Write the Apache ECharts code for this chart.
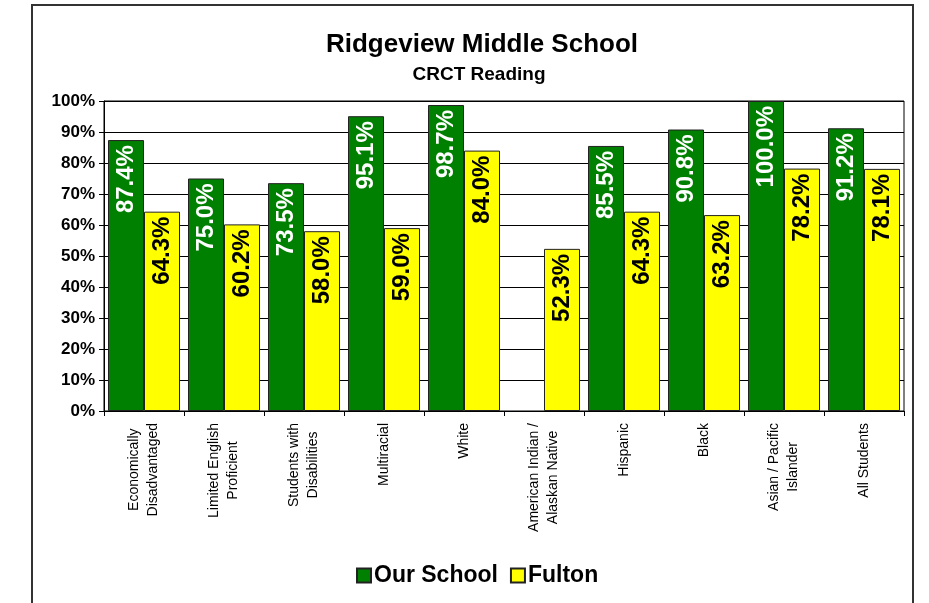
<!DOCTYPE html>
<html>
<head>
<meta charset="utf-8">
<script src="https://cdn.jsdelivr.net/npm/echarts@6/dist/echarts.min.js"></script>
<style>
html,body{margin:0;padding:0;background:#fff;}
#chart{width:929px;height:603px;}
</style>
</head>
<body>
<div id="chart"></div>
<script>
const categories = [
  "Economically\nDisadvantaged",
  "Limited English\nProficient",
  "Students with\nDisabilities",
  "Multiracial",
  "White",
  "American Indian /\nAlaskan Native",
  "Hispanic",
  "Black",
  "Asian / Pacific\nIslander",
  "All Students"
];
const ourSchool = [87.4, 75.0, 73.5, 95.1, 98.7, null, 85.5, 90.8, 100.0, 91.2];
const fulton = [64.3, 60.2, 58.0, 59.0, 84.0, 52.3, 64.3, 63.2, 78.2, 78.1];
const yMin = 0, yMax = 100, yStep = 10;

const FONT = '"Liberation Sans", Arial, sans-serif';
const chart = echarts.init(document.getElementById('chart'), null, {renderer: 'canvas'});

function barLabel(color) {
  return {
    show: true,
    position: 'insideTop',
    rotate: 90,
    align: 'right',
    verticalAlign: 'middle',
    distance: 5,
    color: color,
    fontFamily: FONT,
    fontWeight: 'bold',
    fontSize: 24,
    formatter: p => (p.value == null ? '' : Number(p.value).toFixed(1) + '%')
  };
}

chart.setOption({
  backgroundColor: '#fff',
  animation: false,
  graphic: [{
    type: 'rect',
    shape: {x: 32, y: 5, width: 881, height: 640},
    style: {fill: 'none', stroke: '#333', lineWidth: 2},
    silent: true, z: 0
  }],
  title: [{
    text: 'Ridgeview Middle School',
    left: 477, top: 27, textAlign: 'center',
    textStyle: {fontFamily: FONT, fontWeight: 'bold', fontSize: 26, color: '#000'}
  }, {
    text: 'CRCT Reading',
    left: 474, top: 60, textAlign: 'center',
    textStyle: {fontFamily: FONT, fontWeight: 'bold', fontSize: 19, color: '#000'}
  }],
  legend: {
    left: 351, top: 559,
    itemWidth: 14, itemHeight: 14, itemGap: 12,
    icon: 'rect',
    textStyle: {fontFamily: FONT, fontWeight: 'bold', fontSize: 23, color: '#000', padding: [0, 0, 0, -2]},
    data: ['Our School', 'Fulton']
  },
  grid: {
    left: 104, right: 25, top: 101, bottom: 192,
    show: true, borderColor: '#000', borderWidth: 1, backgroundColor: 'transparent'
  },
  xAxis: {
    type: 'category',
    data: categories,
    axisLine: {lineStyle: {color: '#000', width: 1}},
    axisTick: {show: true, length: 5, lineStyle: {color: '#000'}},
    axisLabel: {
      interval: 0,
      rotate: 90,
      margin: 12,
      color: '#000',
      fontFamily: FONT,
      fontSize: 14,
      lineHeight: 19,
      formatter: v => v.split('\n').map(s => '{c|' + s + '}').join('\n'),
      rich: {c: {align: 'center', fontFamily: FONT, fontSize: 14, lineHeight: 19, color: '#000'}}
    }
  },
  yAxis: {
    type: 'value',
    min: yMin, max: yMax, interval: yStep,
    axisLine: {show: true, lineStyle: {color: '#000'}},
    axisTick: {show: true, length: 5, lineStyle: {color: '#000'}},
    splitLine: {show: true, lineStyle: {color: '#000', width: 1}},
    axisLabel: {
      margin: 9,
      color: '#000',
      fontFamily: FONT,
      fontWeight: 'bold',
      fontSize: 17,
      formatter: '{value}%'
    }
  },
  series: [{
    name: 'Our School',
    type: 'bar',
    data: ourSchool,
    barGap: '0%',
    barCategoryGap: '10%',
    itemStyle: {color: '#008000', borderColor: '#222', borderWidth: 1},
    label: barLabel('#fff')
  }, {
    name: 'Fulton',
    type: 'bar',
    data: fulton,
    barGap: '0%',
    barCategoryGap: '10%',
    itemStyle: {color: '#ffff00', borderColor: '#222', borderWidth: 1},
    label: barLabel('#000')
  }]
});
</script>
</body>
</html>
